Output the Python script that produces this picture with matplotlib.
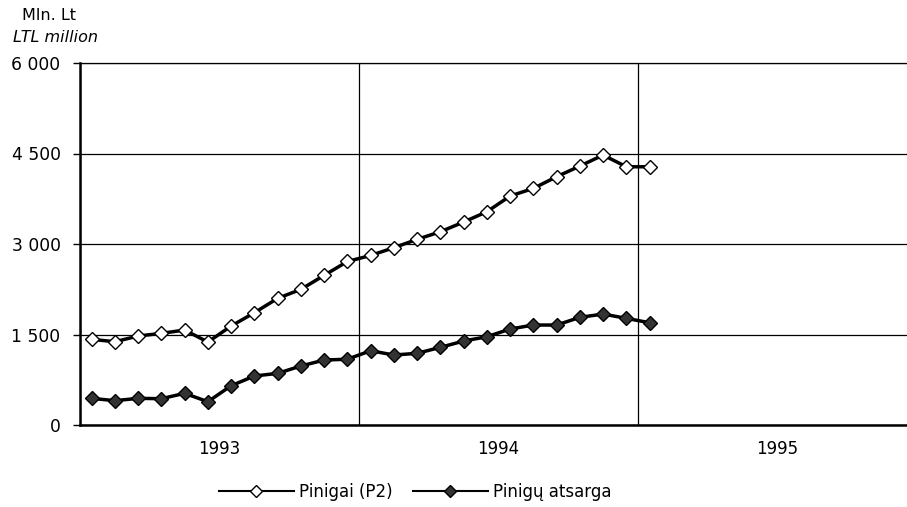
import matplotlib.pyplot as plt
import numpy as np
from matplotlib.lines import Line2D

# monthly data, Jan 1993 .. Jan 1995 (mln. Lt)
months = np.arange(25) + 0.5
pinigai = [1420, 1380, 1475, 1519, 1574, 1375, 1640, 1861, 2099, 2248, 2480, 2710,
           2810, 2939, 3077, 3203, 3364, 3535, 3795, 3922, 4115, 4292, 4474, 4280, 4280]
atsarga = [442, 403, 442, 436, 525, 386, 651, 812, 856, 978, 1077, 1090,
           1231, 1160, 1188, 1287, 1392, 1463, 1591, 1657, 1657, 1784, 1839, 1768, 1695]
years = ['1993', '1994', '1995']
yticks = [0, 1500, 3000, 4500, 6000]
ytick_labels = ['0', '1 500', '3 000', '4 500', '6 000']

fig = plt.figure(figsize=(9.07, 5.07), dpi=100)
# axes runs a bit past the right edge, like the scanned page
ax = fig.add_axes([80/907, 1 - 425/507, 837/907, 362/507])

ax.plot(months, pinigai, color='black', lw=2.5, marker='D', ms=7.5,
        mfc='white', mec='black', mew=1.0, zorder=3)
ax.plot(months, atsarga, color='black', lw=2.5, marker='D', ms=7.5,
        mfc='#333333', mec='black', mew=1.0, zorder=3)

ax.set_xlim(0, 36)
ax.set_ylim(0, 6000)
ax.set_yticks(yticks)
ax.set_yticklabels(ytick_labels, fontsize=12.3)
ax.set_xticks([0, 12, 24, 36])
ax.set_xticklabels([])
ax.set_xticks([6, 18, 30], minor=True)
ax.set_xticklabels(years, minor=True, fontsize=12)
ax.tick_params(axis='x', which='both', length=0, pad=11)
ax.tick_params(axis='y', length=5, width=1, pad=9)
ax.grid(True, which='major', color='black', lw=0.9)

for s in ['left', 'bottom']:
    ax.spines[s].set_linewidth(1.8)
ax.spines['top'].set_linewidth(0.9)
ax.spines['right'].set_visible(False)

fig.text(22/907, 1 - 16/507, 'Mln. Lt', fontsize=11.5, va='center', ha='left')
fig.text(13/907, 1 - 38/507, 'LTL million', fontsize=11.5, style='italic',
         va='center', ha='left')

handles = [
    Line2D([], [], color='black', lw=1.5, marker='D', ms=6, mfc='white', mec='black'),
    Line2D([], [], color='black', lw=1.5, marker='D', ms=6, mfc='#333333', mec='black'),
]
fig.legend(handles, ['Pinigai (P2)', 'Pinigų atsarga'], loc='center',
           bbox_to_anchor=(415/907, 1 - 492/507), ncol=2, frameon=False,
           fontsize=12, handlelength=4.5, handletextpad=0.3, columnspacing=1.2)

fig.savefig('out.png', dpi=100)
